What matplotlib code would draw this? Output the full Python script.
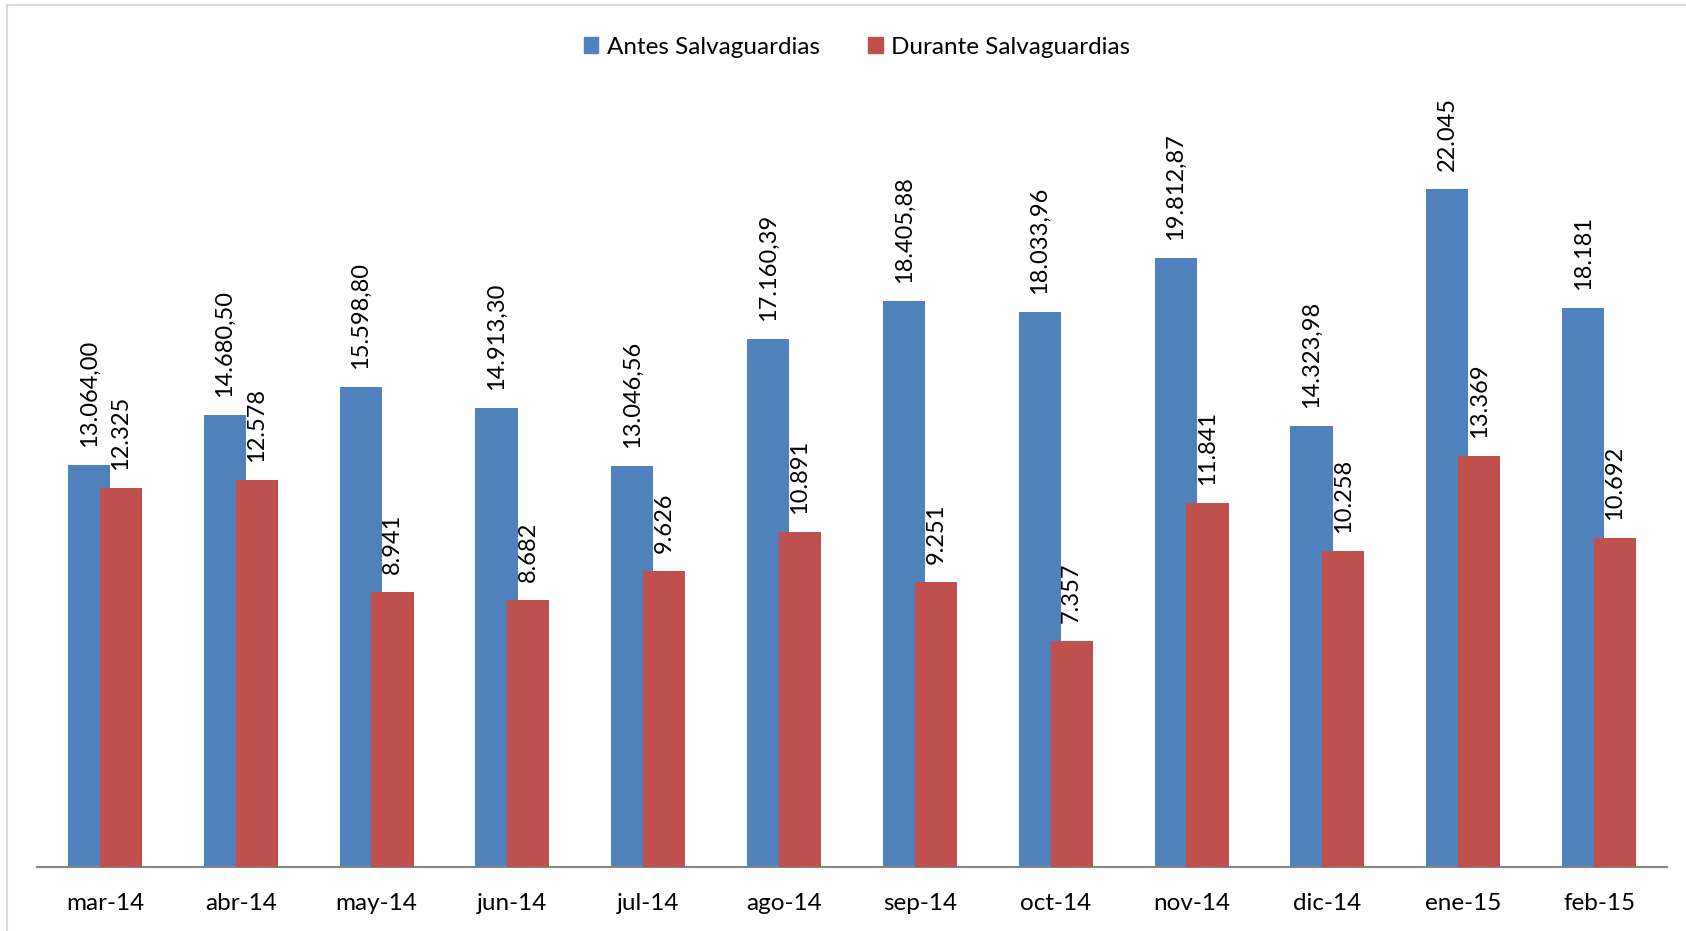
import matplotlib
matplotlib.use("Agg")
import matplotlib.pyplot as plt
from matplotlib.patches import Rectangle, Patch
import numpy as np

categories = ["mar-14", "abr-14", "may-14", "jun-14", "jul-14", "ago-14",
              "sep-14", "oct-14", "nov-14", "dic-14", "ene-15", "feb-15"]
antes = [13064.00, 14680.50, 15598.80, 14913.30, 13046.56, 17160.39,
         18405.88, 18033.96, 19812.87, 14323.98, 22045, 18181]
durante = [12325, 12578, 8941, 8682, 9626, 10891, 9251, 7357, 11841, 10258, 13369, 10692]
antes_labels = ["13.064,00", "14.680,50", "15.598,80", "14.913,30", "13.046,56", "17.160,39",
                "18.405,88", "18.033,96", "19.812,87", "14.323,98", "22.045", "18.181"]
durante_labels = ["12.325", "12.578", "8.941", "8.682", "9.626", "10.891",
                  "9.251", "7.357", "11.841", "10.258", "13.369", "10.692"]
series_names = ["Antes Salvaguardias", "Durante Salvaguardias"]

BLUE = "#4F81BD"
RED = "#C0504D"
plt.rcParams['font.family'] = ['Lato', 'DejaVu Sans']

fig = plt.figure(figsize=(16.86, 9.31), dpi=100)
ax = fig.add_axes([37/1686, 1-867/931, (1667-37)/1686, (867-98)/931])

x = np.arange(len(categories))
w = 0.31
off = 0.117
ax.bar(x - off, antes, width=w, color=BLUE, zorder=2)
ax.bar(x + off, durante, width=w, color=RED, zorder=3)

for xi, v, lab in zip(x - off, antes, antes_labels):
    ax.annotate(lab, (xi, v), xytext=(0, 13), textcoords="offset points",
                rotation=90, ha="center", va="bottom", fontsize=17, color="#000000")
for xi, v, lab in zip(x + off, durante, durante_labels):
    ax.annotate(lab, (xi, v), xytext=(0, 13), textcoords="offset points",
                rotation=90, ha="center", va="bottom", fontsize=17, color="#000000")

ax.set_xlim(-0.5, len(categories) - 0.5)
ax.set_ylim(0, 25000)
ax.set_xticks(x)
ax.set_xticklabels(categories, fontsize=17.5)
ax.tick_params(axis="x", length=0, pad=19)
ax.set_yticks([])
for s in ["top", "right", "left"]:
    ax.spines[s].set_visible(False)
ax.spines["bottom"].set_color("#868686")
ax.spines["bottom"].set_linewidth(1.5)

handles = [Patch(color=BLUE), Patch(color=RED)]
fig.legend(handles, series_names, loc="center", bbox_to_anchor=(857/1686, 1-47/931),
           ncol=2, frameon=False, fontsize=17.5, handlelength=0.6, handleheight=0.6,
           handletextpad=0.35, columnspacing=2.0)

border = Rectangle((7/1686, -0.01), 1.02, 1-5/931 + 0.01, transform=fig.transFigure,
                   fill=False, edgecolor="#D9D9D9", linewidth=1.5)
fig.patches.append(border)

fig.savefig("out.png", dpi=100)
